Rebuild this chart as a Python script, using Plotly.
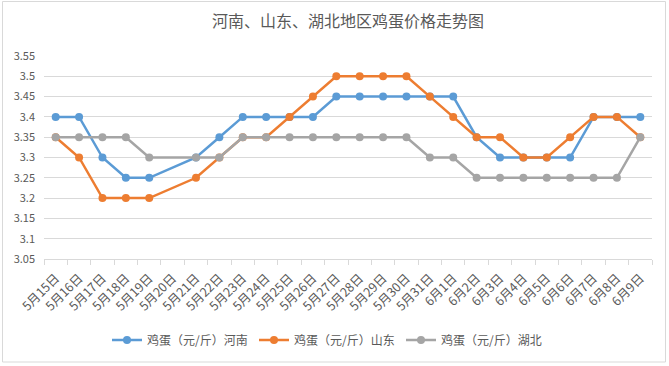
import plotly.graph_objects as go

dates = ["5月15日", "5月16日", "5月17日", "5月18日", "5月19日", "5月20日", "5月21日", "5月22日",
         "5月23日", "5月24日", "5月25日", "5月26日", "5月27日", "5月28日", "5月29日", "5月30日",
         "5月31日", "6月1日", "6月2日", "6月3日", "6月4日", "6月5日", "6月6日", "6月7日", "6月8日", "6月9日"]

henan = [3.40, 3.40, 3.30, 3.25, 3.25, None, 3.30, 3.35, 3.40, 3.40, 3.40, 3.40, 3.45, 3.45, 3.45,
         3.45, 3.45, 3.45, 3.35, 3.30, 3.30, 3.30, 3.30, 3.40, 3.40, 3.40]
shandong = [3.35, 3.30, 3.20, 3.20, 3.20, None, 3.25, 3.30, 3.35, 3.35, 3.40, 3.45, 3.50, 3.50, 3.50,
            3.50, 3.45, 3.40, 3.35, 3.35, 3.30, 3.30, 3.35, 3.40, 3.40, 3.35]
hubei = [3.35, 3.35, 3.35, 3.35, 3.30, None, 3.30, 3.30, 3.35, 3.35, 3.35, 3.35, 3.35, 3.35, 3.35,
         3.35, 3.30, 3.30, 3.25, 3.25, 3.25, 3.25, 3.25, 3.25, 3.25, 3.35]

series_names = ["鸡蛋（元/斤）河南", "鸡蛋（元/斤）山东", "鸡蛋（元/斤）湖北"]
colors = ["#5B9BD5", "#ED7D31", "#A5A5A5"]
y_ticks = [3.05, 3.1, 3.15, 3.2, 3.25, 3.3, 3.35, 3.4, 3.45, 3.5, 3.55]

FONT = "Noto Sans CJK SC"
fig = go.Figure()
for name, vals, col in zip(series_names, [henan, shandong, hubei], colors):
    fig.add_trace(go.Scatter(
        x=dates, y=vals, name=name, mode="lines+markers", connectgaps=True,
        line=dict(color=col, width=2.5), marker=dict(color=col, size=8),
    ))

W, H = 669, 366
L, R, T, B = 44, 17, 56, 107
pw, ph = W - L - R, H - T - B

def px_x(p):
    return (p - L) / pw

def px_y(p):
    return (H - B - p) / ph

fig.add_shape(type="rect", xref="paper", yref="paper",
              x0=px_x(2.5), x1=px_x(665.5), y0=px_y(362), y1=px_y(1.5),
              line=dict(color="#D9D9D9", width=1), fillcolor="rgba(0,0,0,0)", layer="below")

fig.update_layout(
    width=W, height=H,
    margin=dict(l=L, r=R, t=T, b=B, autoexpand=False),
    paper_bgcolor="white", plot_bgcolor="white",
    font=dict(family=FONT, color="#595959"),
    title=dict(text="河南、山东、湖北地区鸡蛋价格走势图", x=0.5, xref="paper", xanchor="center",
               y=1 - 21 / H, yanchor="middle", font=dict(size=16, color="#595959", family=FONT)),
    xaxis=dict(type="category", range=[-0.5, len(dates) - 0.5], showgrid=False,
               showline=True, linecolor="#D9D9D9", linewidth=1,
               ticks="outside", tickson="boundaries", ticklen=5, tickcolor="#D9D9D9",
               ticklabelstandoff=6,
               tickangle=-45, tickfont=dict(size=12.5, color="#595959", family=FONT)),
    yaxis=dict(range=[3.05, 3.55], tickvals=y_ticks, ticktext=[f"{v:g}" for v in y_ticks],
               showgrid=True, gridcolor="#D9D9D9", gridwidth=1, zeroline=False,
               showline=False, ticks="", ticklabelstandoff=8,
               tickfont=dict(size=11, color="#595959", family=FONT)),
    legend=dict(orientation="h", x=px_x(107), xanchor="left", y=px_y(340), yanchor="middle",
                font=dict(size=12, color="#595959", family=FONT), itemwidth=30,
                entrywidth=102, entrywidthmode="pixels"),
    showlegend=True,
)

fig.write_html("out.html", post_script="document.body.style.margin='0';",
               config={"displayModeBar": False})
